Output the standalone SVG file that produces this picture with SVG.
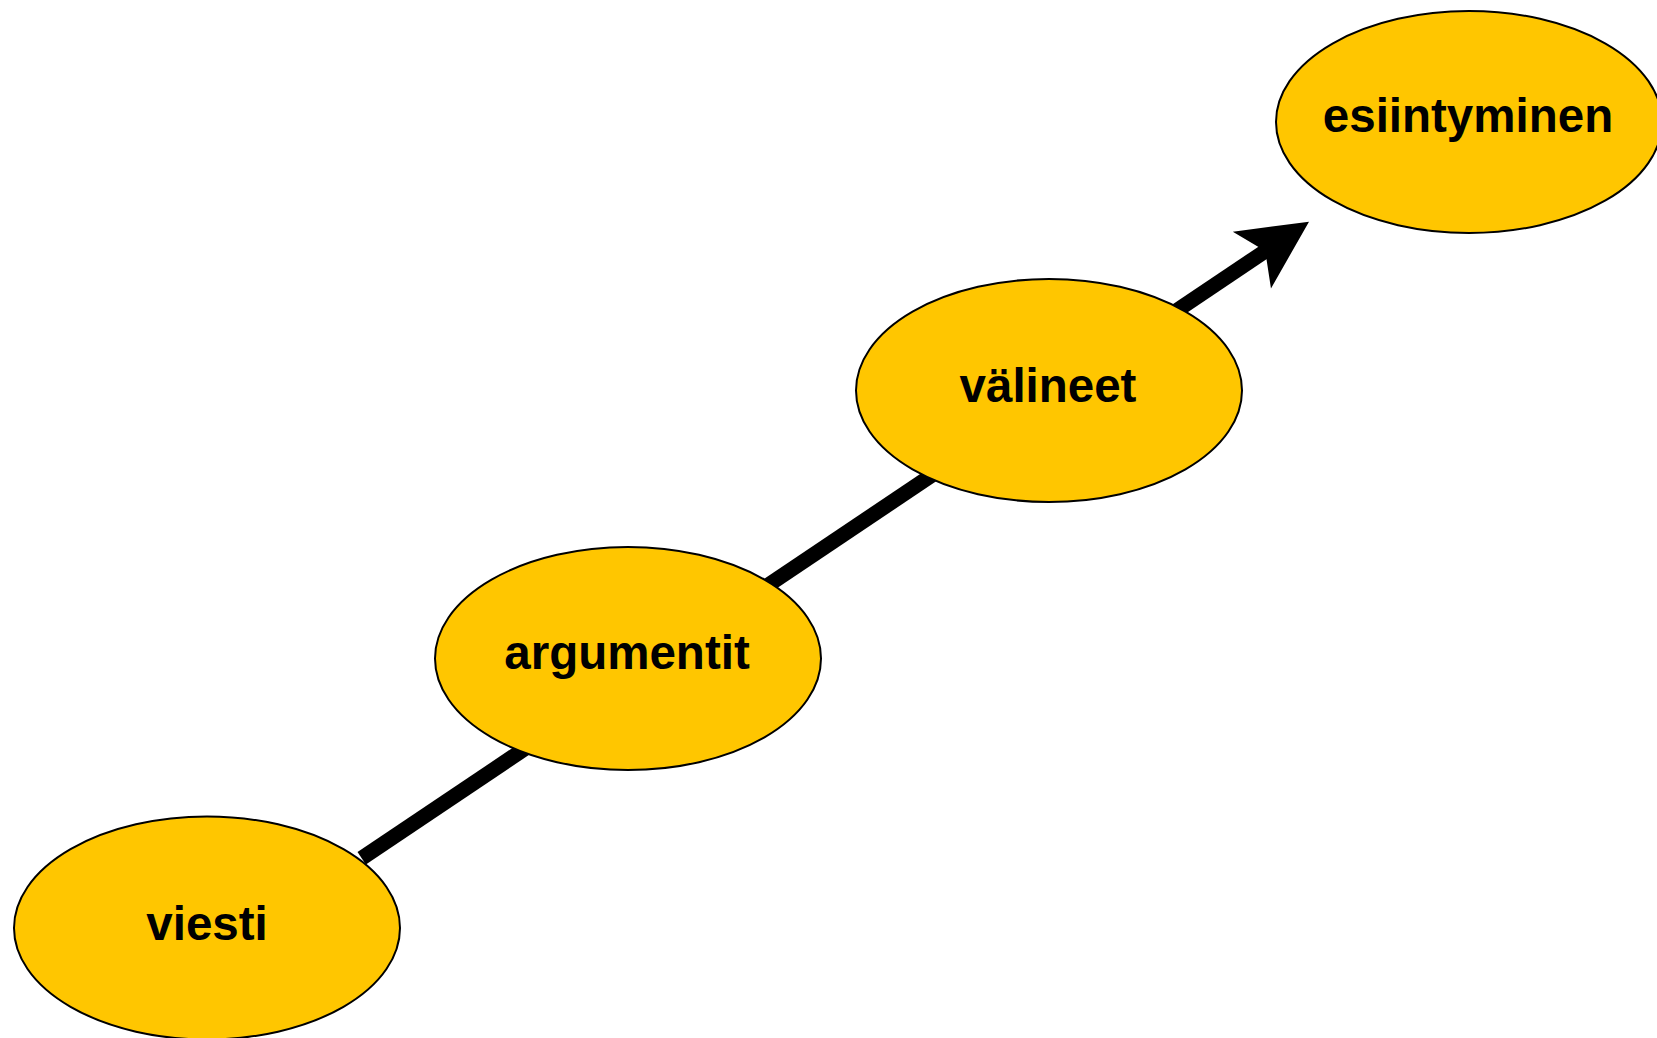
<svg xmlns="http://www.w3.org/2000/svg" width="1657" height="1038" viewBox="0 0 1657 1038">
  <style>
    .node ellipse { fill: #FFC600; stroke: #000; stroke-width: 2; }
    .node text { font-family: "Liberation Sans", Arial, sans-serif; font-weight: bold; font-size: 47.5px; fill: #000; text-anchor: middle; }
    .flow { fill: none; stroke: #000; stroke-width: 15; stroke-linecap: butt; }
  </style>
  <defs>
    <!-- filled arrowhead with a notched back, tip 50 units past the line end -->
    <marker id="arrowHead" markerUnits="userSpaceOnUse" viewBox="-20 -36 72 72" markerWidth="72" markerHeight="72" refX="0" refY="0" orient="auto">
      <path d="M50,0 L-18.8,-34.2 L-2.7,0 L-18.8,34.2 Z" fill="#000"/>
    </marker>
  </defs>
  <rect x="0" y="0" width="1657" height="1038" fill="#fff"/>

  <!-- one rising arrow running behind all the steps -->
  <g id="connectors">
    <path class="flow" d="M361.7,858.3 L1267.5,249.6" marker-end="url(#arrowHead)"/>
  </g>

  <g id="node-viesti" class="node">
    <ellipse cx="207" cy="928" rx="193" ry="111.5"/>
    <text x="207" y="940">viesti</text>
  </g>
  <g id="node-argumentit" class="node">
    <ellipse cx="628" cy="658.5" rx="193" ry="111.5"/>
    <text x="627" y="669">argumentit</text>
  </g>
  <g id="node-valineet" class="node">
    <ellipse cx="1049" cy="390.5" rx="193" ry="111.5"/>
    <text x="1048" y="401.5">välineet</text>
  </g>
  <g id="node-esiintyminen" class="node">
    <ellipse cx="1469" cy="122" rx="193" ry="111"/>
    <text x="1468" y="132">esiintyminen</text>
  </g>
</svg>
